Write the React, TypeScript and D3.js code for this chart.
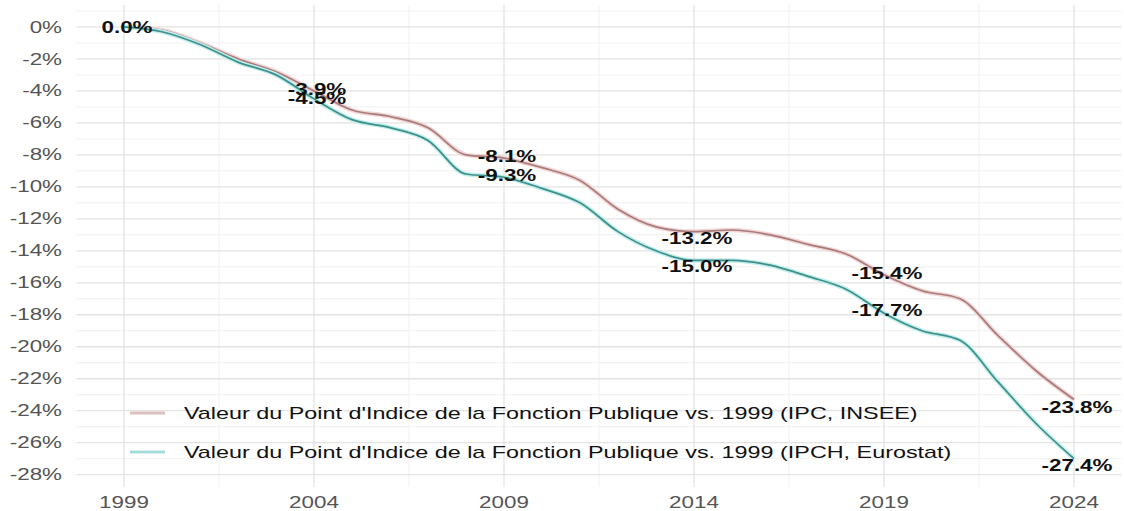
import React from "react"
import {scaleLinear, line, curveMonotoneX, range} from "d3"

// annual values (% vs 1999)
const years = [1999,2000,2001,2002,2003,2004,2005,2006,2007,2008,2009,2010,2011,2012,2013,2014,2015,2016,2017,2018,2019,2020,2021,2022,2023,2024]
const ipcValues = [0,-0.2,-1.0,-2.0,-2.8,-4.0,-5.2,-5.6,-6.3,-8.0,-8.2,-8.8,-9.6,-11.4,-12.5,-12.8,-12.7,-13.0,-13.6,-14.2,-15.5,-16.5,-17.0,-19.3,-21.5,-23.3]
const ipchValues = [0,-0.3,-1.1,-2.2,-3.0,-4.5,-5.8,-6.3,-7.1,-9.2,-9.4,-10.1,-11.0,-12.8,-14.0,-14.6,-14.6,-14.9,-15.6,-16.4,-17.9,-19.0,-19.6,-22.2,-24.8,-27.0]

// printed point labels
const labelYears = [1999,2004,2009,2014,2019,2024]
const ipcLabels = [0.0,-3.9,-8.1,-13.2,-15.4,-23.8]
const ipchLabels = [0.0,-4.5,-9.3,-15.0,-17.7,-27.4]

const yTicks = range(0,-29,-2)
const xTicks = [1999,2004,2009,2014,2019,2024]

const seriesNames = [
  "Valeur du Point d'Indice de la Fonction Publique vs. 1999 (IPC, INSEE)",
  "Valeur du Point d'Indice de la Fonction Publique vs. 1999 (IPCH, Eurostat)"
]

const W = 1124
const H = 511
const SX = 1.4 // the picture is stretched sideways

const x = scaleLinear().domain([1999-1.25, 2024+1.25]).range([76.5, 1121.5])
const y = scaleLinear().domain([1.37, -28.77]).range([5, 487])

const fmt = v => (v === 0 ? "0.0" : v.toFixed(1)) + "%"

function Txt({tx, ty, anchor, sx = SX, children, ...rest}) {
  return (
    <g transform={`translate(${tx},${ty}) scale(${sx},1)`}>
      <text textAnchor={anchor} dy="0.35em" {...rest}>{children}</text>
    </g>
  )
}

export default function App() {
  const gen = line().x(d => x(d[0])).y(d => y(d[1])).curve(curveMonotoneX)
  const ipcPath = gen(years.map((yr,i) => [yr, ipcValues[i]]))
  const ipchPath = gen(years.map((yr,i) => [yr, ipchValues[i]]))

  const minorY = range(-27, 2, 2)
  const minorX = xTicks.slice(0,-1).map(t => t + 2.5)

  return (
    <svg width={W} height={H} style={{position:"absolute", left:0, top:0, background:"#fff"}}
      fontFamily="'Liberation Sans', Arial, sans-serif">
      <g>
        {minorY.map(v => <line key={"my"+v} x1={76.5} x2={1121.5} y1={y(v)} y2={y(v)} stroke="#f1f1f1" strokeWidth={1}/>)}
        {minorX.map(v => <line key={"mx"+v} x1={x(v)} x2={x(v)} y1={5} y2={487} stroke="#f1f1f1" strokeWidth={1}/>)}
        {yTicks.map(v => <line key={"gy"+v} x1={76.5} x2={1121.5} y1={y(v)} y2={y(v)} stroke="#e3e3e3" strokeWidth={1.3}/>)}
        {xTicks.map(v => <line key={"gx"+v} x1={x(v)} x2={x(v)} y1={5} y2={487} stroke="#e3e3e3" strokeWidth={1.3}/>)}
      </g>

      <path d={ipcPath} fill="none" stroke="#f2d6d6" strokeWidth={4.5}/>
      <path d={ipcPath} fill="none" stroke="#a87c7d" strokeWidth={1.7}/>
      <path d={ipchPath} fill="none" stroke="#c2efec" strokeWidth={4.5}/>
      <path d={ipchPath} fill="none" stroke="#3f8f8a" strokeWidth={1.7}/>

      {yTicks.map(v => (
        <Txt key={"yt"+v} tx={62} ty={y(v)} anchor="end" fontSize={16} fill="#555">{v + "%"}</Txt>
      ))}
      {xTicks.map(v => (
        <Txt key={"xt"+v} tx={x(v)} ty={502} anchor="middle" fontSize={16} fill="#555">{v}</Txt>
      ))}

      {labelYears.map((yr,i) => (
        <Txt key={"la"+yr} tx={x(yr)+3} ty={y(ipcLabels[i])} anchor="middle" fontSize={16} fontWeight="bold" fill="#111">{fmt(ipcLabels[i])}</Txt>
      ))}
      {labelYears.slice(1).map((yr,i) => (
        <Txt key={"lb"+yr} tx={x(yr)+3} ty={y(ipchLabels[i+1])} anchor="middle" fontSize={16} fontWeight="bold" fill="#111">{fmt(ipchLabels[i+1])}</Txt>
      ))}

      <g>
        <line x1={130} x2={165} y1={413} y2={413} stroke="#dcc0c0" strokeWidth={3}/>
        <line x1={130} x2={165} y1={452} y2={452} stroke="#a6dcd8" strokeWidth={3}/>
        <Txt tx={184} ty={413} anchor="start" sx={1.46} fontSize={16} fill="#111">{seriesNames[0]}</Txt>
        <Txt tx={184} ty={452} anchor="start" sx={1.46} fontSize={16} fill="#111">{seriesNames[1]}</Txt>
      </g>
    </svg>
  )
}
